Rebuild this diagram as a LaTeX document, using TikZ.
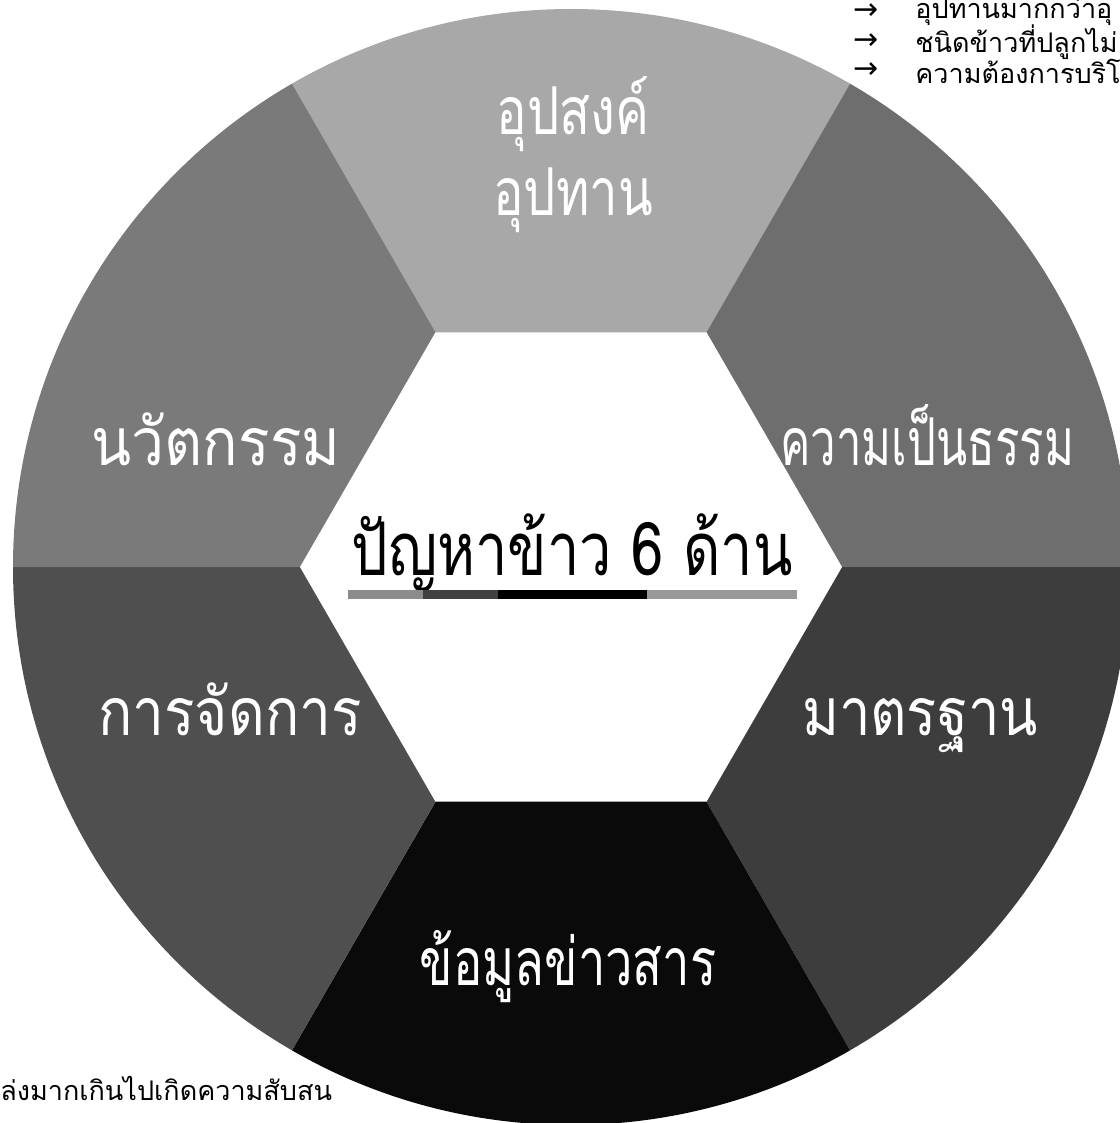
\documentclass[tikz,border=0pt]{standalone}
\usepackage{fontspec}
\usepackage{graphicx}
\usepackage{tikz}
\usetikzlibrary{calc}
\usetikzlibrary{positioning}
\newfontfamily\thaifont[Script=Thai]{Loma}
\newfontfamily\arrowfont{DejaVu Sans}
\newcommand{\condense}[2]{\scalebox{#1}[1]{#2}}
\definecolor{wedgetop}{gray}{0.66}
\definecolor{wedgefair}{gray}{0.43}
\definecolor{wedgestd}{gray}{0.24}
\definecolor{wedgeinfo}{gray}{0.04}
\definecolor{wedgemgmt}{gray}{0.31}
\definecolor{wedgeinno}{gray}{0.48}
\begin{document}
\begin{tikzpicture}[
    x=0.5pt, y=-0.5pt,
    every node/.style={font=\thaifont},
    wedge/.style={text=white, anchor=base, font=\thaifont\fontsize{33}{40}\selectfont},
    headline/.style={anchor=base, font=\thaifont\fontsize{37}{40}\selectfont},
    note/.style={font=\thaifont\fontsize{13.5}{16}\selectfont, anchor=west, inner sep=0pt},
    bullet/.style={font=\arrowfont\fontsize{15}{16}\selectfont, inner sep=0pt}
]
\useasboundingbox (0,0) rectangle (1119,1123);
\coordinate (c) at (571,567);
\begin{scope}
\clip (c) circle [radius=279pt];
\foreach \s/\e/\col in {240/300/wedgetop, 300/360/wedgefair, 0/60/wedgestd, 60/120/wedgeinfo, 120/180/wedgemgmt, 180/240/wedgeinno}
    \fill[\col] (c) -- ($(c)+(\s:1200)$) -- ($(c)+(\e:1200)$) -- cycle;
\end{scope}
\fill[white] ($(c)+(0:271)$) \foreach \a in {60,120,...,300} {-- ($(c)+(\a:271)$)} -- cycle;

\node[wedge] (demand) at (573,135) {\condense{0.77}{อุปสงค์}};
\node[wedge] (supply) at (573,215) {\condense{0.77}{อุปทาน}};
\node[wedge] (inno) at (216,465) {\condense{0.89}{นวัตกรรม}};
\node[wedge] (fair) at (927,465) {\condense{0.69}{ความเป็นธรรม}};
\node[wedge] (mgmt) at (230,735) {\condense{0.86}{การจัดการ}};
\node[wedge] (std) at (920,735) {\condense{0.85}{มาตรฐาน}};
\node[wedge] (info) at (568,985) {\condense{0.74}{ข้อมูลข่าวสาร}};

\node[headline] (title) at (572,575) {\condense{0.78}{ปัญหาข้าว 6 ด้าน}};
\fill[gray!90] (348,590) rectangle (423,599);
\fill[gray!50!black] (423,590) rectangle (498,599);
\fill[black] (498,590) rectangle (647,599);
\fill[gray!80] (647,590) rectangle (797,599);

\node[bullet] (b1) at (866,12) {→};
\node[bullet] (b2) at (866,42) {→};
\node[bullet] (b3) at (866,71) {→};
\node[note, right=18pt of b1] (n1) {อุปทานมากกว่าอุ};
\node[note, right=18pt of b2] (n2) {ชนิดข้าวที่ปลูกไม่};
\node[note, right=18pt of b3] (n3) {ความต้องการบริโ};
\node[note] (n4) at (0,1088) {ล่งมากเกินไปเกิดความสับสน};
\end{tikzpicture}
\end{document}
